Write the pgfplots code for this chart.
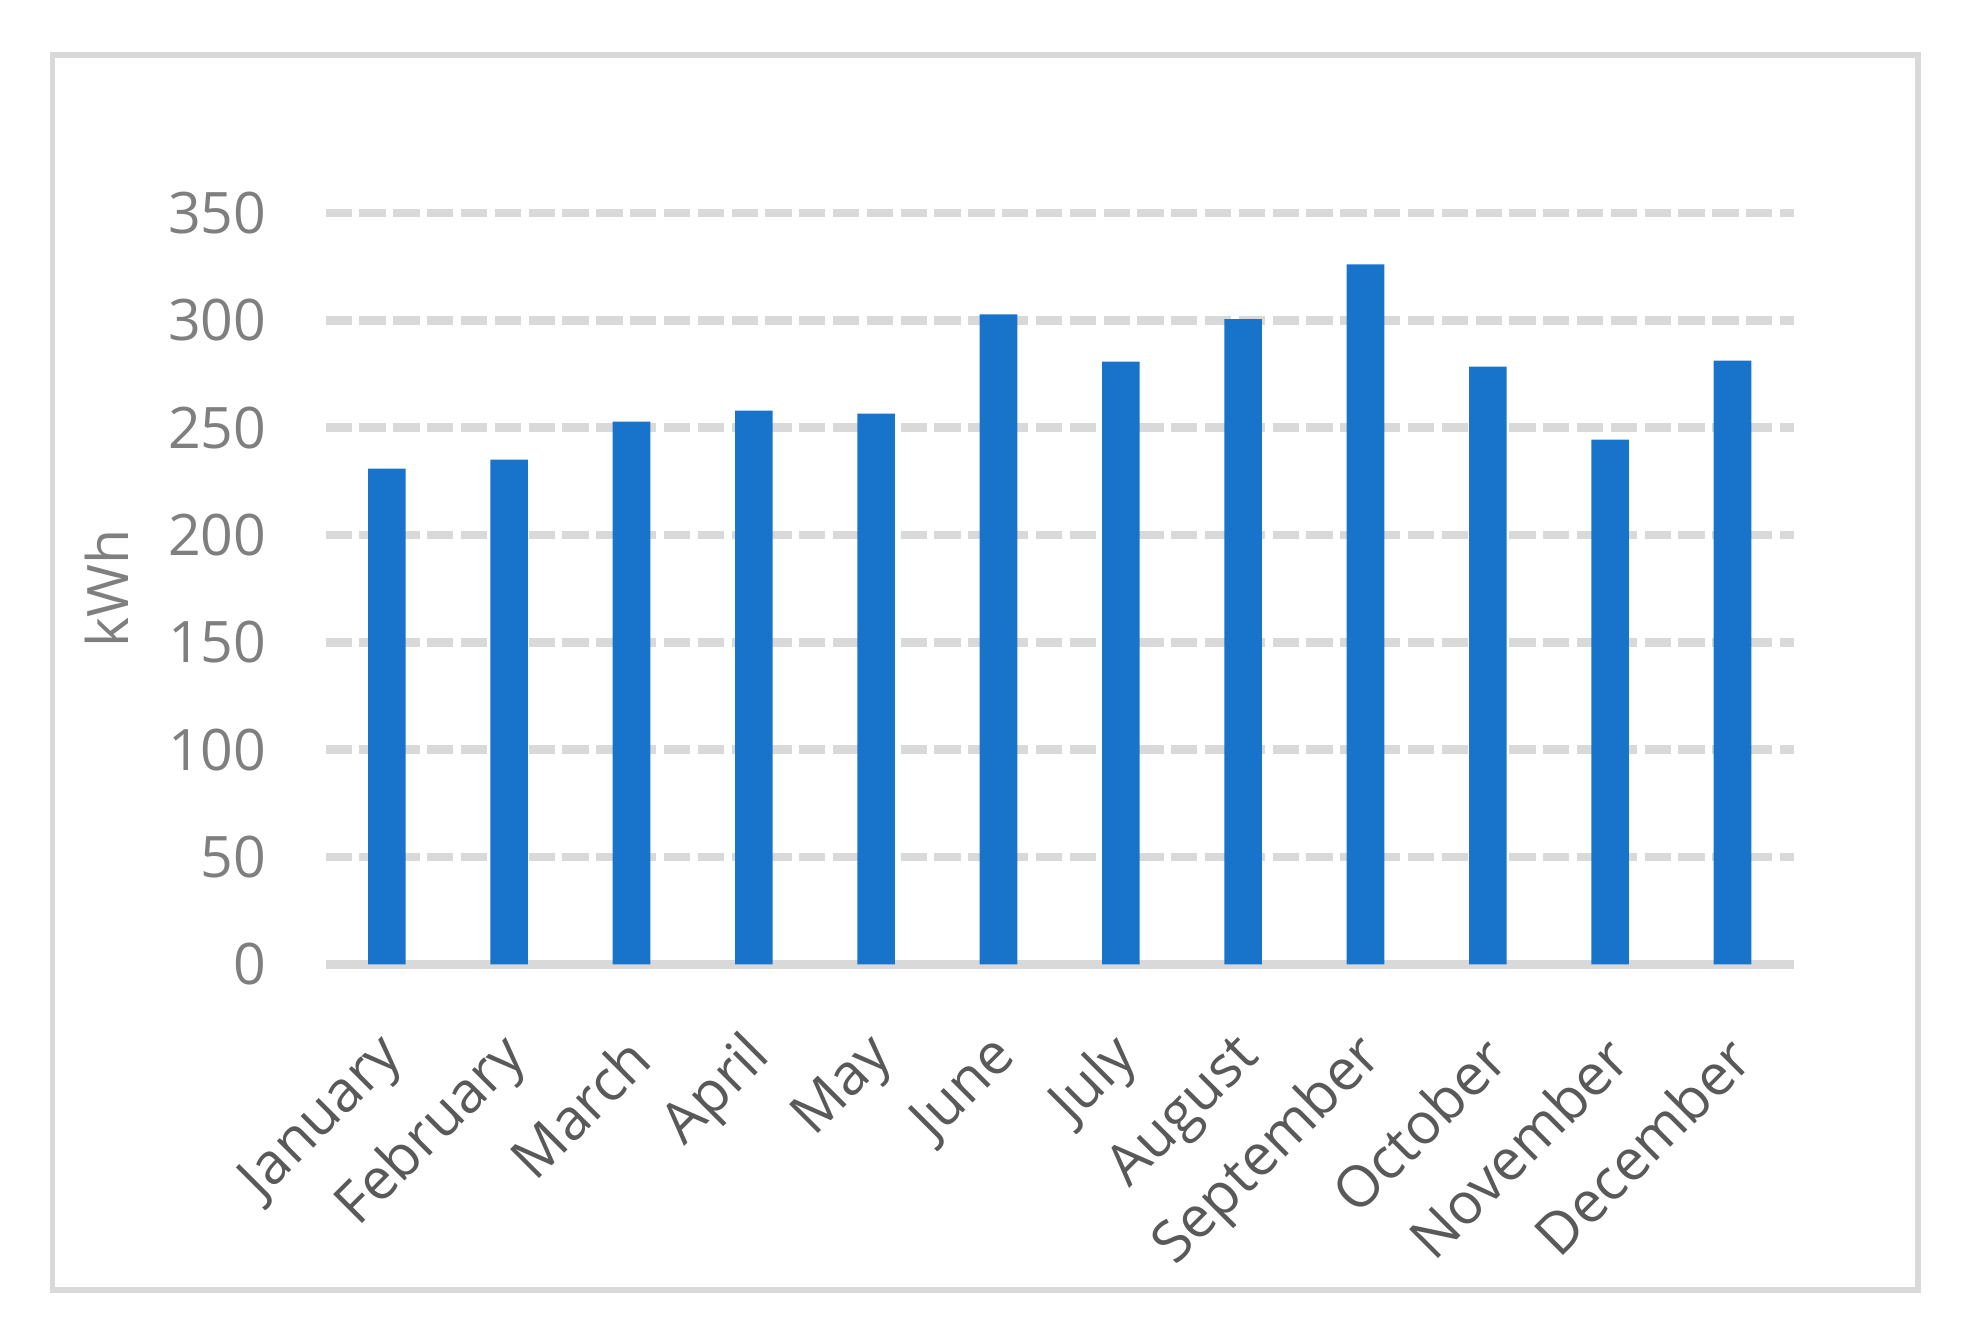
\documentclass[border=0pt]{standalone}
\usepackage{fontspec}
\setmainfont{Open Sans}
\usepackage{pgfplots}
\pgfplotsset{compat=1.18}
\definecolor{barblue}{RGB}{24,116,202}
\definecolor{gridgray}{RGB}{217,217,217}
\definecolor{labelgray}{RGB}{127,127,127}
\definecolor{textgray}{RGB}{89,89,89}

\begin{document}
\begin{tikzpicture}
\useasboundingbox (-2.60,-2.96) rectangle (13.08,7.70);
\draw[gridgray, line width=0.045cm] (-2.18,-2.60) rectangle (12.71,7.26);
\begin{axis}[
  at={(0,0)}, anchor=south west,
  width=11.72cm, height=6cm, scale only axis,
  ymin=0, ymax=350, xmin=-0.5, xmax=11.5,
  ytick={50,100,...,350},
  extra y ticks={0},
  extra y tick style={major grid style={draw=gridgray, line width=0.07cm, solid}},
  xtick={0,...,11},
  xticklabels={January,February,March,April,May,June,July,August,September,October,November,December},
  axis line style={draw=none},
  tick style={draw=none},
  ymajorgrids,
  major grid style={gridgray, line width=0.07cm, dash pattern=on 0.21cm off 0.06cm},
  /pgf/number format/assume math mode=true,
  yticklabel style={font=\fontsize{13}{15}\selectfont, text=labelgray, xshift=-0.35cm},
  xticklabel style={font=\fontsize{13}{15}\selectfont, text=textgray, xshift=0.15cm, yshift=-0.43cm, rotate=45, anchor=east},
  ylabel={kWh},
  every axis y label/.style={at={(axis description cs:-0.1493,0.5)}, rotate=90, anchor=center},
  ylabel style={font=\fontsize{13}{15}\selectfont, text=labelgray},
  ybar, bar width=0.30cm,
]
\addplot[fill=barblue, draw=none] coordinates {
  (0,230.9) (1,235.1) (2,252.8) (3,257.9) (4,256.5) (5,302.7)
  (6,280.8) (7,300.6) (8,326.0) (9,278.4) (10,244.4) (11,281.2)};
\end{axis}
\end{tikzpicture}
\end{document}
